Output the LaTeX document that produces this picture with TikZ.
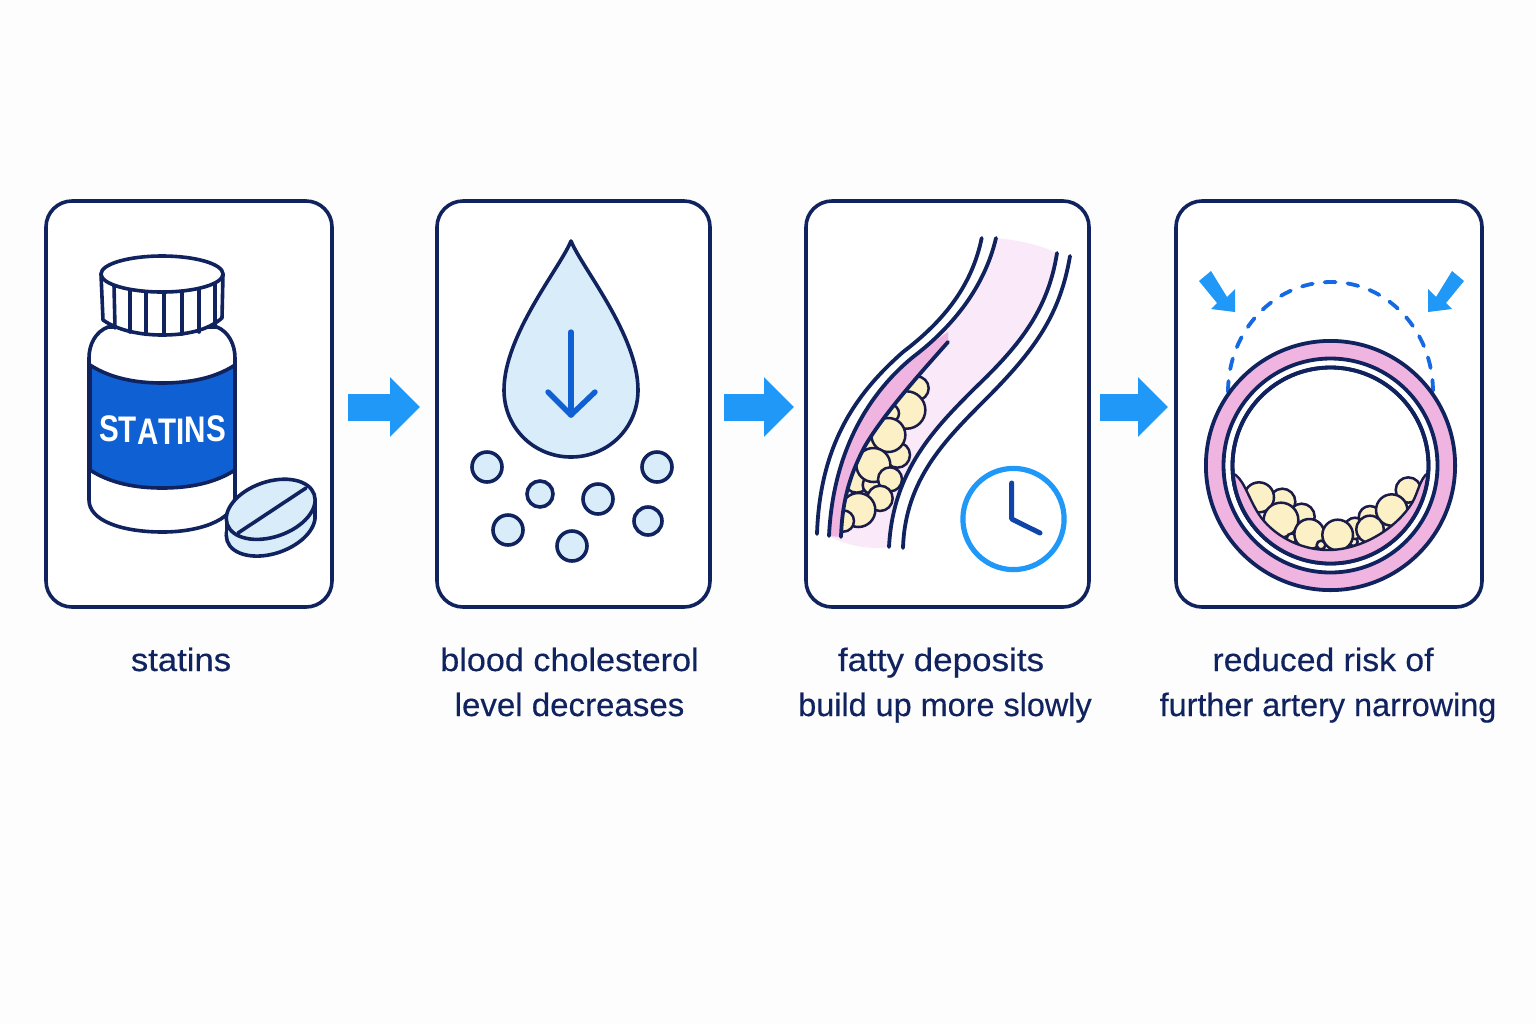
\documentclass[tikz,border=0pt]{standalone}
\usepackage{fontspec}
\usepackage{graphicx}
\usetikzlibrary{arrows.meta,calc}
\setmainfont{Liberation Sans}[FakeBold=0.35]
\newfontfamily\labelfont{Liberation Sans}[FakeStretch=0.8]
\newcommand{\widened}[2]{\scalebox{#1}[1]{#2}}
\definecolor{navy}{HTML}{10235F}
\definecolor{inkdark}{HTML}{1B1B48}
\definecolor{flowblue}{HTML}{2098F8}
\definecolor{labelblue}{HTML}{0F60D2}
\definecolor{darthand}{HTML}{0F45A8}
\definecolor{dashblue}{HTML}{1569E2}
\definecolor{paleblue}{HTML}{D9ECFA}
\definecolor{ringpink}{HTML}{EFB4DF}
\definecolor{lumenpink}{HTML}{F9E9F9}
\definecolor{fatcream}{HTML}{FBF0C6}
\definecolor{pagebg}{HTML}{FDFDFE}
\tikzset{
  x=0.5pt,y=-0.5pt,
  panel/.style={draw=navy,fill=white,line width=1.8pt,rounded corners=13pt,inner sep=0pt,outer sep=0pt,minimum height=203pt},
  outline/.style={draw=navy,line width=1.8pt,line join=round,line cap=round},
  wall/.style={draw=navy,line width=1.9pt,line cap=round},
  fatball/.style={draw=inkdark,fill=fatcream,line width=1.25pt},
  dotcell/.style={draw=navy,fill=paleblue,line width=1.8pt},
  flow/.style={draw=flowblue,line width=13.5pt,-{Triangle[length=15pt,width=29pt]}},
  caption/.style={text=navy,font=\fontsize{16.2pt}{22.5pt}\selectfont,align=center,anchor=base,inner sep=0pt},
  pressarrow/.style={fill=flowblue,draw=none},
}
% centre lines of the artery walls in long section
\def\wallA{(981.7,238) .. controls (972,285) and (945,320) .. (903,352) .. controls (860,390) and (820,440) .. (817,534)}
\def\wallB{(996,238) .. controls (985,285) and (955,325) .. (913,357) .. controls (870,392) and (833,450) .. (829,536)}
\def\wallC{(948,342) .. controls (925,368) and (885,412) .. (865,446) .. controls (848,478) and (842,505) .. (841,537)}
\def\wallD{(1057,253) .. controls (1048,310) and (1020,345) .. (975,388) .. controls (935,428) and (893,470) .. (889,547)}
\def\wallE{(1070,256) .. controls (1060,315) and (1035,350) .. (985,400) .. controls (945,440) and (905,480) .. (903,548)}
\begin{document}
\begin{tikzpicture}
\useasboundingbox (0,0) rectangle (1536,1024);
\fill[pagebg] (0,0) rectangle (1536,1024);

% panels
\node[panel,minimum width=143pt] (p1) at (189,404) {};
\node[panel,minimum width=136.5pt] (p2) at (573.5,404) {};
\node[panel,minimum width=141.5pt] (p3) at (947.5,404) {};
\node[panel,minimum width=153pt] (p4) at (1329,404) {};

% flow arrows between panels
\draw[flow,shorten <=8pt,shorten >=8.5pt] ([yshift=-1.5pt]p1.east) -- ([yshift=-1.5pt]p2.west);
\draw[flow,shorten <=7pt,shorten >=6pt] ([yshift=-1.5pt]p2.east) -- ([yshift=-1.5pt]p3.west);
\draw[flow,shorten <=5.5pt,shorten >=4pt] ([yshift=-1.5pt]p3.east) -- ([yshift=-1.5pt]p4.west);

% pill bottle: body, label, cap
\path[outline,fill=white] (108,327) .. controls (95,332) and (89,345) .. (89,358) -- (89,500)
  .. controls (89,520) and (120,532) .. (163,532) .. controls (195,532) and (235,522) .. (235,497)
  -- (235,358) .. controls (235,345) and (229,332) .. (217,327) -- cycle;
\path[outline,fill=labelblue] (90,365) .. controls (110,378) and (135,383) .. (162,383)
  .. controls (190,383) and (215,378) .. (235,365) -- (235,470)
  .. controls (215,483) and (190,488) .. (162,488)
  .. controls (135,488) and (110,483) .. (90,470) -- cycle;
\node[text=white,inner sep=0pt,font=\labelfont\bfseries\fontsize{18.5pt}{20pt}\selectfont] (drugname) at (162.5,430)
  {S\raisebox{-.5pt}{T}\raisebox{-1.2pt}{A}\raisebox{-1.5pt}{T}\raisebox{-1.2pt}{I}\raisebox{-.5pt}{N}\raisebox{.3pt}{S}};
\path[outline,fill=white] (101,274) -- (103,320) .. controls (120,332) and (145,335) .. (162,335)
  .. controls (185,335) and (207,331) .. (222,318) -- (223,274) -- cycle;
\foreach \xt/\yt/\xb/\yb in {114/285/115/328,130/289/130/332,146/291/146/334,164/292/164/335,182/291/182/334,199/288/199/332,215/283/215/327}
  \draw[outline] (\xt,\yt) -- (\xb,\yb);
\path[outline,fill=white] (162,274) circle[x radius=30.5pt,y radius=9pt];

% tablet: rim, then top face with score line
\coordinate (tabtop) at (270.7,509.3);
\coordinate (tabrim) at (270.7,526);
\path[outline,fill=paleblue] (tabrim) circle[x radius=23pt,y radius=13.8pt,rotate=19];
\fill[paleblue] ($(tabtop)+(-44.3,9.3)$) -- ($(tabtop)+(44.3,-9.3)$) -- ($(tabrim)+(44.3,-9.3)$) -- ($(tabrim)+(-44.3,9.3)$) -- cycle;
\draw[outline] ($(tabtop)+(-44.3,9.3)$) -- ($(tabrim)+(-44.3,9.3)$);
\draw[outline] ($(tabtop)+(44.3,-9.3)$) -- ($(tabrim)+(44.3,-9.3)$);
\path[outline,fill=paleblue] (tabtop) circle[x radius=23pt,y radius=13.8pt,rotate=19];
\draw[outline] (238,533) -- (306,488);

% falling droplet and cholesterol particles
\path[outline,fill=paleblue] (571,241) .. controls (560,268) and (504,335) .. (504,390)
  .. controls (504,428) and (534,457) .. (571,457) .. controls (608,457) and (638,428) .. (638,390)
  .. controls (638,335) and (582,268) .. (571,241) -- cycle;
\draw[draw=labelblue,line width=2.7pt,line cap=round,line join=round] (571,332) -- (571,415);
\draw[draw=labelblue,line width=2.7pt,line cap=round,line join=round] (548,392) -- (571,415) -- (595,392);
\foreach \cx/\cy/\rr in {487/467/15,540/494/13,598/499/15,657/467/15,508/530/15,648/521/14,572/546/15}
  \path[dotcell] (\cx,\cy) circle[radius=\rr];

% artery in long section: lumen, deposits, intimal band, walls
\fill[lumenpink] \wallB .. controls (845,545) and (868,550) .. (889,547)
  .. controls (893,470) and (935,428) .. (975,388) .. controls (1020,345) and (1048,310) .. (1057,253)
  .. controls (1040,245) and (1018,240) .. (996,238) -- cycle;
\begin{scope}
  \clip \wallC -- (1000,537) -- (1000,342) -- cycle;
  \foreach \zx/\zy/\zr in {320/205/36,290/270/56,240/280/27,262/405/38,180/375/24,235/345/51,140/480/38,185/495/27,190/435/51,240/478/36,210/535/38,145/570/51,100/603/32}
    \path[fatball] ({810+\zx/3},{320+\zy/3}) circle[radius={\zr/3}];
\end{scope}
\fill[ringpink] (948,332) .. controls (935,341) and (925,348) .. (913,357) .. controls (870,392) and (833,450) .. (829,536)
  -- (841,537) .. controls (842,505) and (848,478) .. (865,446) .. controls (885,412) and (925,368) .. (948,342) -- cycle;
\draw[wall] \wallA;
\draw[wall] \wallB;
\draw[wall] \wallC;
\draw[wall] \wallD;
\draw[wall] \wallE;

% clock
\draw[flowblue,line width=2.6pt] (1013.5,519) circle[radius=25.3pt];
\draw[darthand,line width=2.5pt,line cap=round,line join=round] (1011.7,483) -- (1011.7,519) -- (1040,533);

% artery in cross section: ghost outline, pressure arrows, rings
\draw[dashblue,line width=1.9pt,line cap=round,dash pattern=on 5.5pt off 6pt] (1228,392) .. controls (1228,330) and (1275,282) .. (1331,282) .. controls (1387,282) and (1433,330) .. (1433,392);
\path[pressarrow] (1199,281) -- (1211,271) -- (1227,297) -- (1235,289) -- (1235,312) -- (1211,309) -- (1217,303) -- cycle;
\path[pressarrow] (1464,281) -- (1452,271) -- (1436,297) -- (1428,289) -- (1428,312) -- (1452,309) -- (1446,303) -- cycle;

\path[draw=navy,fill=ringpink,line width=1.9pt] (1330.5,465.5) circle[radius=62.3pt];
\path[draw=navy,fill=white,line width=1.9pt] (1330.5,465.5) circle[radius=53.5pt];
\path[draw=navy,fill=white,line width=1.9pt] (1330.5,465.5) circle[radius=49pt];
\begin{scope}
  \clip (1330.5,465.5) circle[radius=49pt];
  \foreach \zx/\zy/\zr in {172/125/39,230/170/39,102/112/45,168/180/52,200/235/15,253/222/45,288/255/13,385/245/13,390/205/32,435/172/34,485/205/16,550/90/38,500/150/47,435/208/41,338/225/46}
    \path[fatball] ({1225+\zx/3},{460+\zy/3}) circle[radius={\zr/3}];
\end{scope}
\path[draw=inkdark,fill=ringpink,line width=1.2pt,line join=round] (1232,473)
  .. controls (1243,477) and (1247,495) .. (1258,513)
  .. controls (1272,535) and (1300,550) .. (1328,550)
  .. controls (1360,550) and (1395,530) .. (1412,503)
  .. controls (1418,493) and (1420,478) .. (1428,473)
  .. controls (1424,525) and (1382,563.5) .. (1330.5,563.5)
  .. controls (1279,563.5) and (1236,525) .. (1232,473) -- cycle;
\draw[draw=navy,line width=1.9pt] (1330.5,465.5) circle[radius=49pt];

% captions
\node[caption] (cap1) at (181,671) {\widened{1.07}{statins}};
\node[caption] (cap2) at (569.5,716) {\widened{1.055}{blood cholesterol}\\\widened{1.02}{level decreases}};
\node[caption] (cap3) at (945,716) {\widened{1.08}{fatty deposits}\hspace*{4pt}\\build up more slowly};
\node[caption] (cap4) at (1328,716) {\widened{1.04}{reduced risk of}\hspace*{5pt}\\further artery narrowing};
\end{tikzpicture}
\end{document}
